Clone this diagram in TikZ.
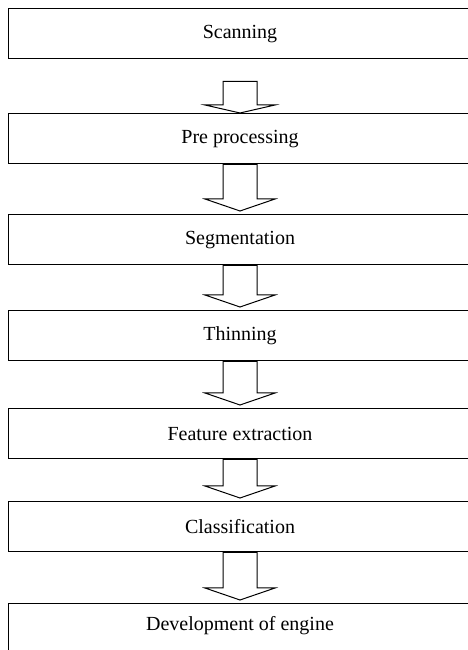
\documentclass[tikz,border=0pt]{standalone}
\usepackage{fontspec}
\setmainfont{Liberation Serif}
\usetikzlibrary{calc}
\tikzset{
  box/.style={draw, line width=1.3pt, minimum width=463pt, minimum height=50pt,
    inner sep=0pt, font=\fontsize{20}{24}\selectfont, anchor=north},
  blockarr/.style={draw, line width=1pt, fill=white, line join=miter},
}
\newcommand{\joinarrow}[5]{%
  \draw[blockarr] ($(#1.south)+(-17,-#3)$) -- ($(#2.north)+(-17,#4)$)
    -- ($(#2.north)+(-35,#4)$) -- ($(#2.north)+(0,#5)$)
    -- ($(#2.north)+(35,#4)$) -- ($(#2.north)+(17,#4)$)
    -- ($(#1.south)+(17,-#3)$) -- cycle;}
\begin{document}
\begin{tikzpicture}[x=1pt,y=1pt]
\useasboundingbox (0,0) rectangle (468,650);
\clip (0,0) rectangle (468,650);
\fill[white] (0,0) rectangle (468,650);
\node[box] (b1) at (240,642) {Scanning};
\node[box] (b2) at (240,537) {Pre processing};
\node[box] (b3) at (240,436) {Segmentation};
\node[box] (b4) at (240,340) {Thinning};
\node[box] (b5) at (240,242) {Feature extraction};
\node[box] (b6) at (240,149) {Classification};
\node[box] (b7) at (240,47) {};
\node[font=\fontsize{20}{24}\selectfont, inner sep=0pt] (t7) at ($(b7.center)+(0,3)$) {Development of engine};
\joinarrow{b1}{b2}{22}{8}{0}
\joinarrow{b2}{b3}{0}{15}{3}
\joinarrow{b3}{b4}{0}{15}{3}
\joinarrow{b4}{b5}{0}{15}{3}
\joinarrow{b5}{b6}{0}{15}{3}
\joinarrow{b6}{b7}{0}{15}{3}
\end{tikzpicture}
\end{document}
